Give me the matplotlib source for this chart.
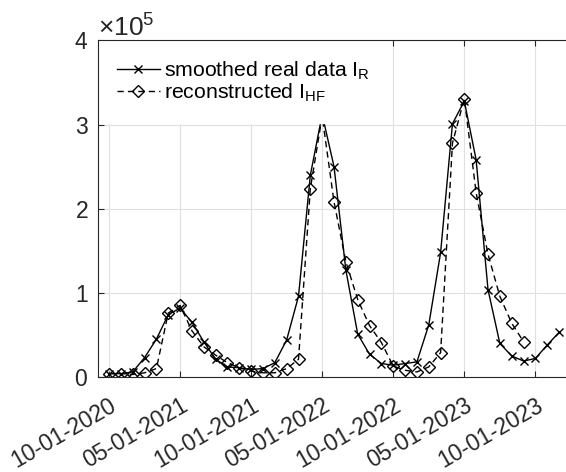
import numpy as np
import matplotlib.pyplot as plt
from matplotlib.ticker import ScalarFormatter
from matplotlib.transforms import ScaledTranslation

# ---------- DATA ----------
smoothed = [4000, 4000, 6000, 23000, 45000, 74000, 82000, 65000, 42000, 21000,
            12000, 11000, 9000, 10000, 17000, 44000, 96000, 240000, 312000, 250000,
            127000, 51000, 27000, 16000, 14000, 16000, 18000, 62000, 148000, 301000,
            328000, 258000, 104000, 40000, 25000, 19000, 22000, 38000, 53000]
reconstructed = [4000, 4000, 3000, 5000, 10000, 76000, 85000, 55000, 36000, 26000,
                 17000, 11000, 7000, 5000, 5000, 10000, 21000, 224000, 310000, 208000,
                 137000, 92000, 61000, 41000, 13000, 8000, 6000, 12000, 29000, 278000,
                 331000, 219000, 146000, 96000, 64000, 42000]
tick_pos = [0, 6, 12, 18, 24, 30, 36]
tick_labels = ["10-01-2020", "05-01-2021", "10-01-2021", "05-01-2022",
               "10-01-2022", "05-01-2023", "10-01-2023"]

plt.rcParams['font.family'] = 'Liberation Sans'
plt.rcParams['mathtext.default'] = 'regular'
dark = '#262626'

fig = plt.figure(figsize=(5.66, 4.72), dpi=100)
ax = fig.add_axes([98/566, 95/472, 480/566, 336.5/472])

x1 = np.arange(len(smoothed))
x2 = np.arange(len(reconstructed))
ax.plot(x1, smoothed, color='black', lw=1.0, marker='x', ms=6, mew=1.0,
        label='smoothed real data I$_{R}$')
ax.plot(x2, reconstructed, color='black', lw=1.0, ls=(0, (4.5, 3)), marker='D',
        ms=6, mew=1.0, mfc='none', label='reconstructed I$_{HF}$')

ax.set_xlim(-0.93, 39.6)
ax.set_ylim(0, 4e5)
ax.set_yticks([0, 1e5, 2e5, 3e5, 4e5])
fmt = ScalarFormatter(useMathText=True)
fmt.set_powerlimits((0, 0))
ax.yaxis.set_major_formatter(fmt)
ax.yaxis.get_offset_text().set_fontsize(19)
ax.yaxis.get_offset_text().set_color(dark)

ax.set_xticks(tick_pos)
ax.set_xticklabels(tick_labels, rotation=30, ha='right', rotation_mode='anchor')
shift = ScaledTranslation(0.06, 0, fig.dpi_scale_trans)
for lab in ax.get_xticklabels():
    lab.set_transform(lab.get_transform() + shift)
    lab.set_fontsize(17.5)

ax.tick_params(direction='in', length=4, width=0.8, colors=dark, labelsize=16.5,
               top=True, right=True)
ax.tick_params(axis='x', pad=12)
ax.tick_params(axis='y', pad=7)
for s in ax.spines.values():
    s.set_color(dark)
    s.set_linewidth(0.8)

ax.grid(True, color='#e0e0e0', lw=0.8)
ax.set_axisbelow(True)

# legend sits over the lines but under the spines, like the MATLAB original
leg = ax.legend(loc='upper left', fontsize=15.3, frameon=True, fancybox=False,
                edgecolor='white', facecolor='white', framealpha=1,
                borderaxespad=0, borderpad=0.9, handlelength=2.0,
                handletextpad=0.2, labelspacing=0.0)
leg.set_zorder(2.2)

fig.savefig('out.png', dpi=100)
